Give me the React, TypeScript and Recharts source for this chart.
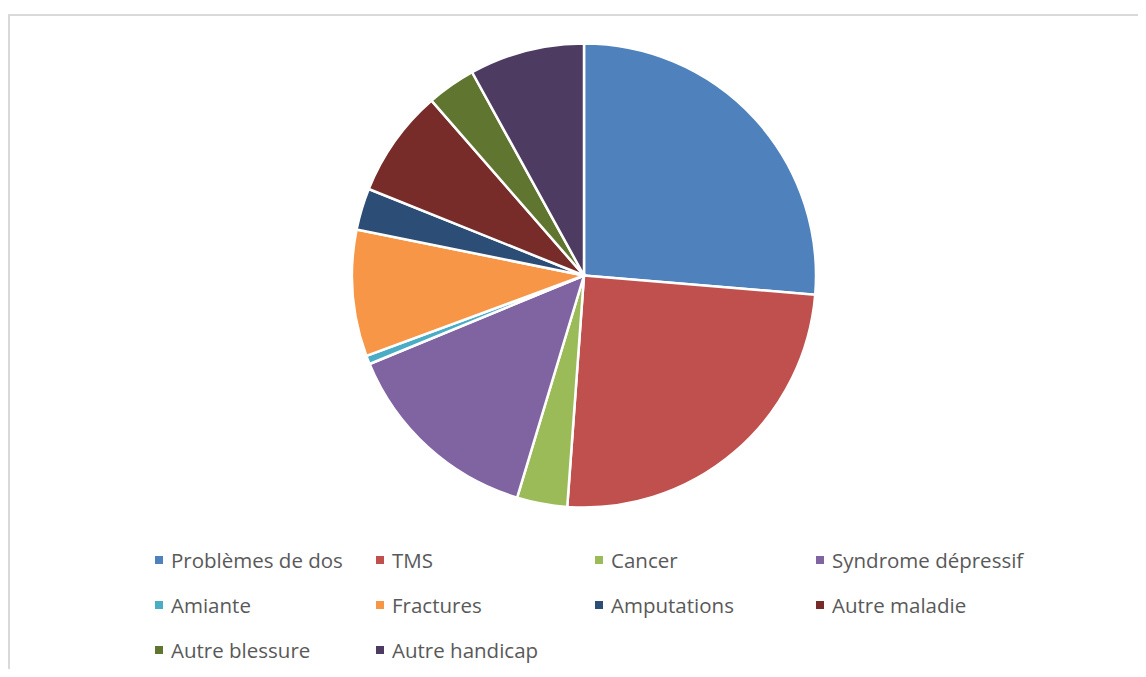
import { PieChart, Pie, Cell, Legend } from 'recharts'

// share of each category (%), read clockwise from 12 o'clock
const categories = [
  'Problèmes de dos',
  'TMS',
  'Cancer',
  'Syndrome dépressif',
  'Amiante',
  'Fractures',
  'Amputations',
  'Autre maladie',
  'Autre blessure',
  'Autre handicap',
]
const shares = [26.3, 24.8, 3.5, 14.1, 0.6, 8.8, 2.9, 7.5, 3.4, 8.0]
const colors = [
  '#4F81BD', '#C0504D', '#9BBB59', '#8064A2', '#4BACC6',
  '#F79646', '#2C4D75', '#772C2A', '#5F7530', '#4D3B62',
]

const data = categories.map((name, i) => ({ name, value: shares[i] }))

const colX = [145, 366, 585, 806]
const rowY = [544, 589, 634]

// legend kept in the data order (recharts sorts its payload otherwise)
function renderLegend() {
  return (
    <div style={{ position: 'relative', width: 1136, height: 120 }}>
      {categories.map((name, i) => {
        const col = i % 4
        const row = Math.floor(i / 4)
        return (
          <div
            key={`leg-${i}`}
            style={{
              position: 'absolute',
              left: colX[col],
              top: rowY[row] - 533 - 13,
              height: 26,
              display: 'flex',
              alignItems: 'center',
              whiteSpace: 'nowrap',
            }}
          >
            <span style={{ width: 8, height: 8, background: colors[i], marginRight: 8, display: 'inline-block' }} />
            <span style={{ color: '#595959', fontSize: 20.5, fontFamily: '"Open Sans", sans-serif' }}>{name}</span>
          </div>
        )
      })}
    </div>
  )
}

export default function App() {
  return (
    <div
      style={{
        marginTop: 6,
        width: 1138,
        height: 655,
        borderTop: '2px solid #d9d9d9',
        borderLeft: '2px solid #d9d9d9',
        boxSizing: 'border-box',
        background: '#fff',
      }}
    >
      <PieChart width={1136} height={653} margin={{ top: 0, right: 0, bottom: 0, left: 0 }}>
        <Pie
          data={data}
          dataKey="value"
          nameKey="name"
          cx={574}
          cy={259.5}
          outerRadius={232}
          startAngle={90}
          endAngle={-270}
          stroke="#ffffff"
          strokeWidth={2.5}
          isAnimationActive={false}
        >
          {data.map((entry, index) => (
            <Cell key={`cell-${index}`} fill={colors[index]} />
          ))}
        </Pie>
        <Legend
          content={renderLegend}
          wrapperStyle={{ left: 0, top: 533, width: 1136, height: 120 }}
        />
      </PieChart>
    </div>
  )
}
